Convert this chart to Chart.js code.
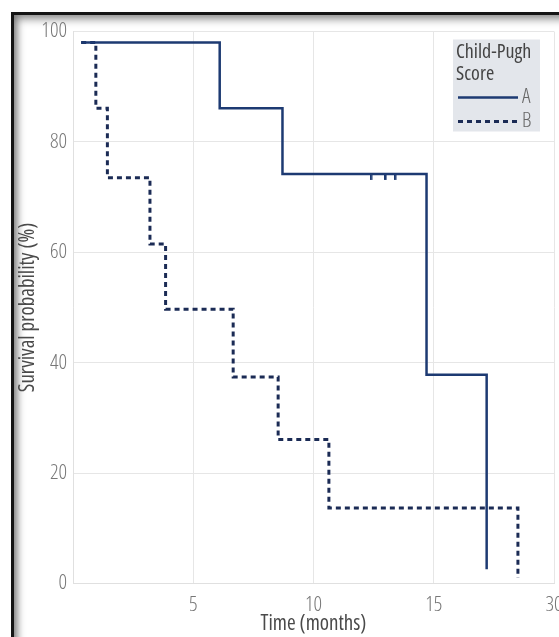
<!DOCTYPE html>
<html>
<head>
<meta charset="utf-8">
<script src="https://cdn.jsdelivr.net/npm/chart.js@4.4.0/dist/chart.umd.min.js"></script>
<style>
  html, body { margin: 0; padding: 0; background: #fff; overflow: hidden; }
  #frame {
    position: absolute; left: 11px; top: 12px; width: 600px; height: 640px;
    border: 3px solid #151515;
    box-shadow: inset 3px 4px 9px rgba(0,0,0,0.45), inset 0 -6px 8px rgba(0,0,0,0.3);
  }
  #wrap { position: absolute; left: 0; top: 0; width: 559px; height: 637px; }
</style>
</head>
<body>
<div id="frame"></div>
<div id="wrap"><canvas id="km-chart"></canvas></div>
<script>
// Curvas de Kaplan-Meier (tempo em meses, sobrevida em %)
const timesA = [0.34, 6.1, 8.71, 14.7, 17.2];
const survA = [98.0, 86.1, 74.2, 37.8, 2.6];

const timesB = [0.34, 0.95, 1.43, 3.2, 3.85, 6.66, 8.53, 10.64, 18.5];
const survB = [98.0, 86.1, 73.5, 61.5, 49.7, 37.4, 26.1, 13.7, 1.0];

// Observações censuradas do grupo A
const censorA = [12.4, 13.0, 13.4];
const censorLevelA = 74.2;

const xTicks = [0, 5, 10, 15, 20];
const xTickLabels = ['', '5', '10', '15', '30'];
const yTicks = [0, 20, 40, 60, 80, 100];

const seriesNames = ['A', 'B'];
const legendTitle = ['Child-Pugh', 'Score'];

const FONT = '"Open Sans", "Roboto", sans-serif';
const LIGHT = '300 condensed';
const REGULAR = '400 condensed';
const NAVY_A = '#1d3a72';
const NAVY_B = '#1b2b55';

function toPoints(xs, ys) {
  return xs.map((x, i) => ({ x: x, y: ys[i] }));
}

// Marca de censura: traço vertical pendurado abaixo da curva
function censorMark() {
  const c = document.createElement('canvas');
  c.width = 3; c.height = 14;
  const g = c.getContext('2d');
  g.fillStyle = NAVY_A;
  g.fillRect(0, 7, 2.5, 6);
  return c;
}

// Legenda desenhada dentro da área do gráfico
const kmLegend = {
  id: 'kmLegend',
  afterDatasetsDraw(chart) {
    const ctx = chart.ctx;
    const area = chart.chartArea;
    const bx = area.right - 101, by = area.top + 8, bw = 87, bh = 92;
    ctx.save();
    ctx.fillStyle = '#e3e6eb';
    ctx.fillRect(bx, by, bw, bh);
    ctx.font = REGULAR + ' 20px ' + FONT;
    ctx.fillStyle = '#444';
    ctx.textBaseline = 'middle';
    ctx.textAlign = 'left';
    ctx.fillText(legendTitle[0], bx + 3, by + 13);
    ctx.fillText(legendTitle[1], bx + 3, by + 35);
    seriesNames.forEach((name, i) => {
      const ds = chart.data.datasets[i];
      const ly = by + 58 + i * 24;
      ctx.strokeStyle = ds.borderColor;
      ctx.lineWidth = ds.borderWidth;
      ctx.setLineDash(ds.borderDash || []);
      ctx.beginPath();
      ctx.moveTo(bx + 5, ly);
      ctx.lineTo(bx + 65, ly);
      ctx.stroke();
      ctx.setLineDash([]);
      ctx.fillStyle = '#666';
      ctx.font = LIGHT + ' 21px ' + FONT;
      ctx.fillText(name, bx + 69, ly);
    });
    ctx.restore();
  }
};

new Chart(document.getElementById('km-chart'), {
  type: 'line',
  data: {
    datasets: [
      {
        label: seriesNames[0],
        data: toPoints(timesA, survA),
        borderColor: NAVY_A,
        borderWidth: 2.5,
        stepped: 'before',
        pointRadius: 0,
        fill: false
      },
      {
        label: seriesNames[1],
        data: toPoints(timesB, survB),
        borderColor: NAVY_B,
        borderWidth: 3,
        borderDash: [5, 4],
        stepped: 'before',
        pointRadius: 0,
        fill: false
      },
      {
        type: 'scatter',
        label: 'censor',
        data: censorA.map(t => ({ x: t, y: censorLevelA })),
        pointStyle: censorMark(),
        showLine: false
      }
    ]
  },
  options: {
    responsive: true,
    maintainAspectRatio: false,
    animation: false,
    layout: { padding: { top: 31.5, right: 5, left: 0, bottom: 0 } },
    plugins: {
      legend: { display: false },
      tooltip: { enabled: false }
    },
    scales: {
      x: {
        type: 'linear',
        min: 0,
        max: 20,
        afterBuildTicks: function(scale) {
          scale.ticks = xTicks.map(v => ({ value: v }));
        },
        afterFit: function(scale) {
          scale.height = 53.5;
          scale.paddingLeft = 0;
          scale.paddingRight = 0;
        },
        grid: { color: '#e6e6e6', drawTicks: false },
        border: { color: '#e0e0e0' },
        ticks: {
          padding: 9,
          maxRotation: 0,
          autoSkip: false,
          color: '#777',
          font: { family: FONT, size: 21, weight: LIGHT },
          callback: function(value) {
            const i = xTicks.indexOf(value);
            return i >= 0 ? xTickLabels[i] : '';
          }
        },
        title: {
          display: true,
          text: 'Time (months)',
          color: '#4a4a4a',
          font: { family: FONT, size: 21, weight: REGULAR },
          padding: { top: 0, bottom: 0 }
        }
      },
      y: {
        min: 0,
        max: 100,
        afterBuildTicks: function(scale) {
          scale.ticks = yTicks.map(v => ({ value: v }));
        },
        afterFit: function(scale) {
          scale.width = 73;
          scale.paddingTop = 0;
          scale.paddingBottom = 0;
        },
        grid: { color: '#e6e6e6', drawTicks: false },
        border: { color: '#e0e0e0' },
        ticks: {
          padding: 6,
          color: '#777',
          font: { family: FONT, size: 21, weight: LIGHT }
        },
        title: {
          display: true,
          text: 'Survival probability (%)',
          color: '#4a4a4a',
          font: { family: FONT, size: 21, weight: REGULAR },
          padding: { top: 15, bottom: 0 }
        }
      }
    }
  },
  plugins: [kmLegend]
});
</script>
</body>
</html>
